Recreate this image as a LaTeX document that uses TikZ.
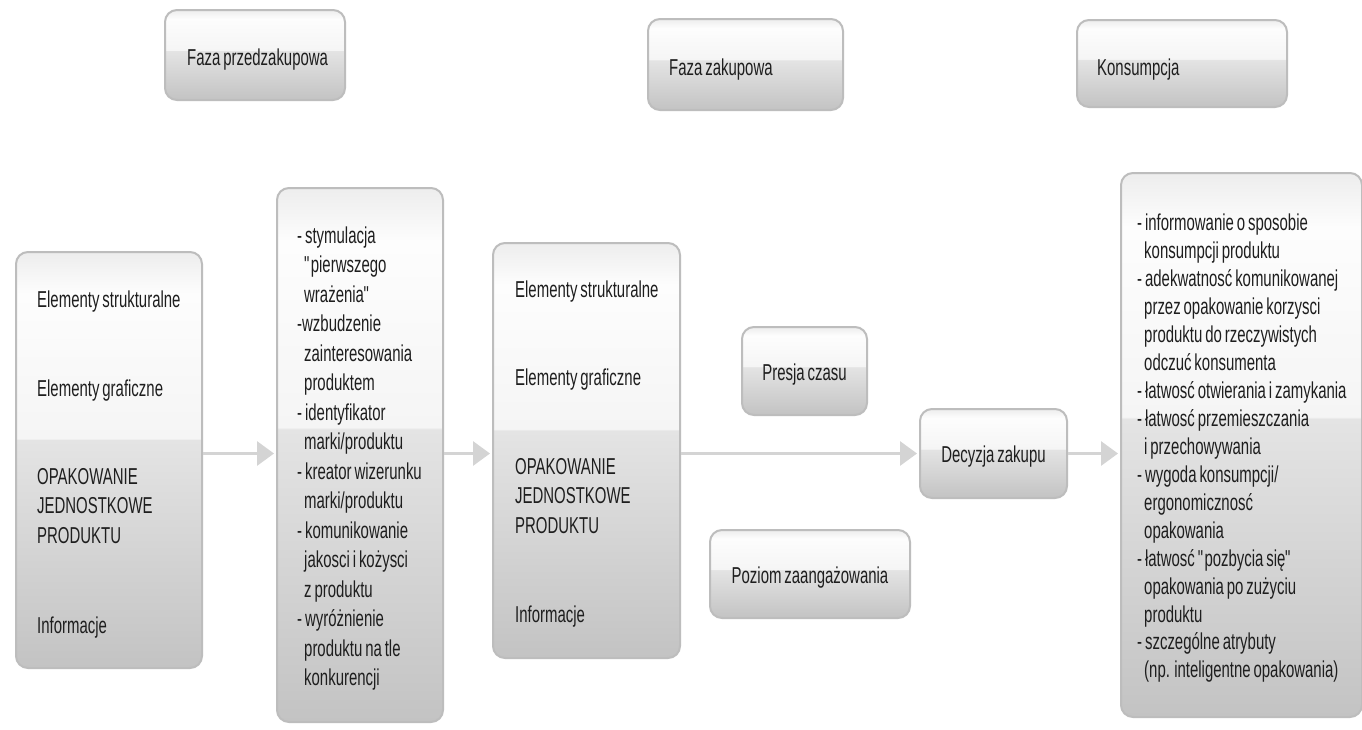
\documentclass[tikz,border=0pt]{standalone}
\usepackage{fontspec}
\setmainfont{Liberation Sans}[FakeStretch=0.65, WordSpace=0.7]
\usetikzlibrary{arrows.meta}

\definecolor{ink}{HTML}{1E1E1E}
\definecolor{rim}{HTML}{BDBDBD}
\definecolor{linkgray}{HTML}{D4D4D4}
\definecolor{glossTop}{HTML}{EDEDED}
\definecolor{glossHi}{HTML}{FDFDFD}
\definecolor{glossMidA}{HTML}{F5F5F5}
\definecolor{glossMidB}{HTML}{E4E4E4}
\definecolor{glossBot}{HTML}{C3C3C3}

% glossy panel fill: light upper half, a soft step, grey lower half
\pgfdeclareverticalshading{gloss}{100bp}{%
  color(0bp)=(glossBot); color(25bp)=(glossBot);
  color(52.4bp)=(glossMidB); color(52.6bp)=(glossMidA);
  color(70bp)=(glossHi); color(75bp)=(glossTop); color(100bp)=(glossTop)}

\newcommand\subln{\hspace*{7pt}}
\newcommand\oq{\textquotedbl\kern-1.5pt}
\newcommand\cq{\kern-0.5pt\textquotedbl}

\tikzset{
  panel/.style={draw=rim, line width=2pt, rounded corners=12pt, shading=gloss,
                inner sep=0pt, text=ink, font=\fontsize{23}{29.5}\selectfont},
  factor/.style={panel, align=center, text height=18pt, text depth=0pt},
  txt/.style={text=ink, font=\fontsize{23}{29.5}\selectfont, align=left,
              inner sep=0pt, anchor=north west},
  headtxt/.style={text=ink, font=\fontsize{23}{29.5}\selectfont,
              inner sep=0pt, anchor=base west},
  link/.style={draw=linkgray, line width=3pt,
               -{Triangle[length=17pt,width=24pt]}, shorten >=2pt},
}

\begin{document}
\begin{tikzpicture}[x=1pt, y=-1pt]
  \useasboundingbox (0,0) rectangle (1362,729);
  \fill[white] (0,0) rectangle (1362,729);
  \clip (0,0) rectangle (1362,729);

  % phase headers
  \node[panel, minimum width=180pt, minimum height=90pt] (h1) at (255,55) {};
  \node[panel, minimum width=195pt, minimum height=91pt] (h2) at (745.5,64.5) {};
  \node[panel, minimum width=210pt, minimum height=87pt] (h3) at (1182,63.5) {};
  \node[headtxt] (h1t) at (187,65) {Faza przedzakupowa};
  \node[headtxt] (h2t) at (669,75) {Faza zakupowa};
  \node[headtxt] (h3t) at (1097,75) {Konsumpcja};

  % main panels
  \node[panel, minimum width=186pt, minimum height=416pt] (b1) at (109,460) {};
  \node[panel, minimum width=166pt, minimum height=534pt] (b2) at (360,455) {};
  \node[panel, minimum width=187pt, minimum height=415pt] (b3) at (586.5,450.5) {};
  \node[panel, minimum width=241pt, minimum height=544pt] (b4) at (1241.5,445) {};

  % influencing factors and the decision
  \node[factor, minimum width=125pt, minimum height=88pt] (presja) at (804.5,371) {Presja czasu};
  \node[factor, minimum width=200pt, minimum height=88pt] (poziom) at (810,574) {Poziom zaangażowania};
  \node[factor, minimum width=147pt, minimum height=89pt] (dz) at (993.5,453.5) {Decyzja zakupu};

  % panel contents
  \node[txt] (b1t) at (37,290.5) {Elementy strukturalne\\[59.5pt]
    Elementy graficzne\\[58.5pt]
    OPAKOWANIE\\JEDNOSTKOWE\\PRODUKTU\\[60.5pt]
    Informacje};

  \node[txt] (b2t) at (297,226.5) {- stymulacja\\
    \subln\oq pierwszego\\
    \subln wrażenia\cq\\
    -wzbudzenie\\
    \subln zainteresowania\\
    \subln produktem\\
    - identyfikator\\
    \subln marki/produktu\\
    - kreator wizerunku\\
    \subln marki/produktu\\
    - komunikowanie\\
    \subln jakosci i kożysci\\
    \subln z produktu\\
    - wyróżnienie\\
    \subln produktu na tle\\
    \subln konkurencji};

  \node[txt] (b3t) at (515,280.5) {Elementy strukturalne\\[58.5pt]
    Elementy graficzne\\[59.5pt]
    OPAKOWANIE\\JEDNOSTKOWE\\PRODUKTU\\[59.5pt]
    Informacje};

  \node[txt, font=\fontsize{23}{27.94}\selectfont] (b4t) at (1137,214) {- informowanie o sposobie\\
    \subln konsumpcji produktu\\
    - adekwatnosć komunikowanej\\
    \subln przez opakowanie korzysci\\
    \subln produktu do rzeczywistych\\
    \subln odczuć konsumenta\\
    - łatwosć otwierania i zamykania\\
    - łatwosć przemieszczania\\
    \subln i przechowywania\\
    - wygoda konsumpcji/\\
    \subln ergonomicznosć\\
    \subln opakowania\\
    - łatwosć \oq pozbycia się\cq\\
    \subln opakowania po zużyciu\\
    \subln produktu\\
    - szczególne atrybuty\\
    \subln (np. inteligentne opakowania)};

  % flow
  \draw[link] (b1.east |- dz) -- (b2.west |- dz);
  \draw[link] (b2.east |- dz) -- (b3.west |- dz);
  \draw[link] (b3.east |- dz) -- (dz.west);
  \draw[link] (dz.east) -- (b4.west |- dz);
\end{tikzpicture}
\end{document}
